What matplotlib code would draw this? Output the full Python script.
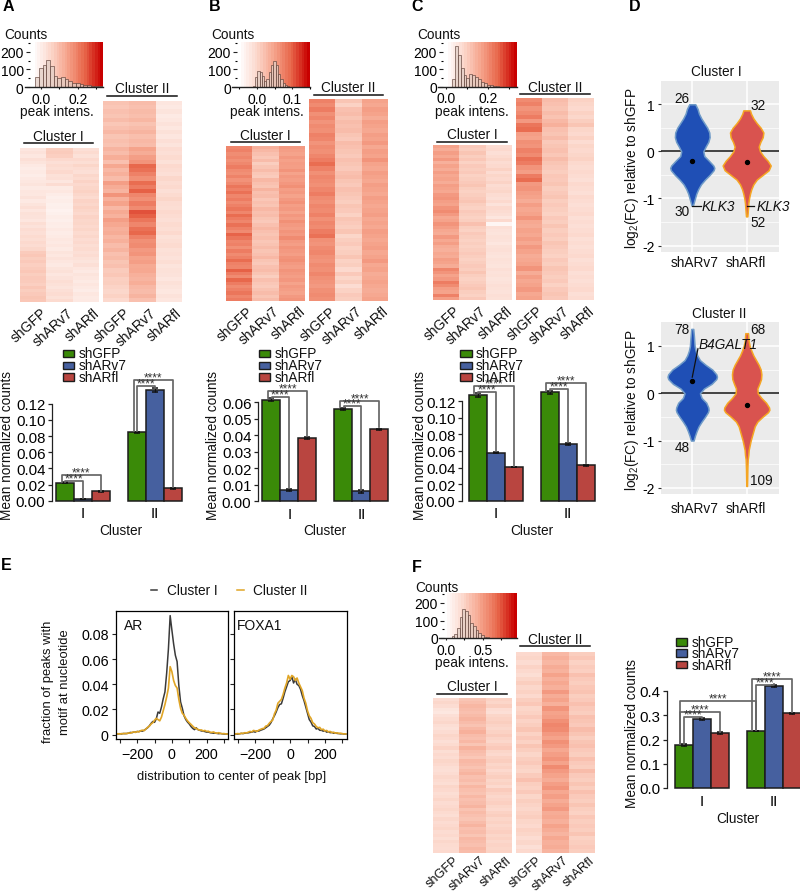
import numpy as np
import matplotlib
matplotlib.use('Agg')
import matplotlib.pyplot as plt
from matplotlib.colors import LinearSegmentedColormap

plt.rcParams['font.family'] = ['Liberation Sans', 'DejaVu Sans']
plt.rcParams['mathtext.default'] = 'regular'
plt.rcParams['axes.linewidth'] = 0.9

W, H = 800, 895
samples = ['shGFP', 'shARv7', 'shARfl']
bar_colors = ['#3a8a08', '#46609f', '#b94540']

# heatmap values, one list per column, top row first (0-100 on the colour ramp)
a1_gfp = [16,18,15,20,17,14,12,13,11,14,15,17,13,16,15,18,14,17,20,16,19,18,16,21,18,22,20,23,21,24,22,25,31,33,30,32,29,31,33,30,32,31,29,33,30,32,34,33]
a1_v7 = [30,31,29,24,20,23,21,24,19,20,16,22,13,15,12,10,11,9,10,8,9,11,10,12,11,14,12,13,15,14,16,13,17,15,18,16,14,17,19,16,18,21,19,17,20,22,19,23]
a1_fl = [20,23,19,24,21,26,22,20,25,23,27,24,26,28,25,23,27,25,28,26,24,27,25,26,24,26,23,25,22,24,21,23,20,22,19,17,20,16,14,17,15,13,16,14,12,15,13,14]
a2_gfp = [35,33,36,34,38,33,36,40,34,37,35,42,38,45,36,48,40,44,38,52,46,42,56,44,50,40,47,43,52,48,44,46,41,44,38,42,36,39,34,36,31,33,29,30,27,25,28,24]
a2_v7 = [38,36,39,37,41,35,38,42,37,40,38,50,46,52,56,74,70,64,58,72,66,76,62,58,66,60,80,76,68,62,70,74,64,58,60,54,56,50,52,47,48,44,42,45,40,38,42,36]
a2_fl = [16,14,17,13,15,18,15,19,16,20,17,22,20,23,19,24,22,20,25,22,24,20,23,26,22,21,24,22,20,23,21,24,19,21,23,19,20,18,21,17,19,18,16,19,17,15,18,16]
b1_gfp = [62,64,59,62,58,61,66,60,58,63,57,61,68,64,70,62,66,60,64,68,62,72,66,62,70,64,60,75,68,62,64,58,66,60,64,72,64,62,76,66,60,74,66,60,64,68,62,66]
b1_v7 = [44,40,36,33,38,30,34,38,33,31,40,36,34,42,36,38,33,36,34,40,36,38,34,32,36,40,36,34,37,33,35,38,34,36,40,34,32,36,38,34,30,36,33,31,35,38,34,38]
b1_fl = [54,52,50,54,51,53,52,56,50,54,52,55,58,52,54,50,54,57,52,54,50,55,52,58,54,52,56,54,60,54,52,56,54,52,56,58,54,52,56,54,52,55,50,54,52,50,54,56]
b2_gfp = [64,60,66,58,62,56,60,58,64,62,56,60,58,62,66,72,64,58,62,60,58,62,66,60,58,62,60,64,58,62,60,66,70,58,56,60,62,58,56,60,58,62,58,56,54,58,60,58]
b2_v7 = [34,28,36,38,34,38,36,38,34,32,38,36,34,32,36,34,32,36,38,34,32,36,34,32,30,34,32,28,34,32,30,34,26,30,32,28,30,34,28,30,24,32,26,30,22,28,32,30]
b2_fl = [50,48,52,50,46,52,50,48,52,50,54,48,52,50,56,50,48,52,50,48,52,50,48,52,50,48,50,52,48,50,48,52,50,48,50,52,48,50,54,48,50,46,48,50,48,46,48,50]
c1_gfp = [50,46,52,48,54,44,50,46,52,48,50,46,52,50,48,54,56,52,50,56,60,54,48,50,56,52,48,46,54,48,52,46,44,48,46,52,50,46,62,56,50,54,66,60,52,50,64,52]
c1_v7 = [32,30,34,30,33,28,32,30,32,28,30,32,34,30,28,30,32,34,30,28,32,30,28,30,36,30,28,32,30,28,30,28,30,32,30,28,30,32,30,34,30,28,30,32,34,30,28,32]
c1_fl = [22,24,20,23,26,22,24,28,22,26,24,27,22,24,26,22,20,24,18,24,22,20,16,24,6,20,18,17,19,18,16,19,20,18,17,19,18,17,20,18,19,17,18,20,19,18,20,19]
c2_gfp = [60,64,56,60,66,54,68,72,52,50,58,56,64,60,70,66,56,52,66,72,54,56,52,50,46,52,48,50,56,48,46,50,48,52,48,54,50,46,48,50,56,46,52,48,50,54,48,50]
c2_v7 = [38,36,34,38,35,40,44,36,34,38,32,34,36,33,38,34,32,30,33,32,34,30,32,34,30,32,30,28,32,30,34,30,32,30,34,32,30,28,32,30,34,32,30,32,28,32,34,32]
c2_fl = [28,26,24,28,25,30,34,26,24,28,22,26,24,26,28,24,22,24,22,20,24,22,20,24,22,20,22,24,20,22,20,22,24,20,22,20,22,24,20,22,24,20,22,20,22,24,20,22]
f1_gfp = [22,25,22,17,15,20,23,25,21,19,22,26,24,20,23,27,21,24,22,26,24,21,20,22,25,23,21,26,24,21,23,26,22,24,26,23,21,25,22,24,26,22,24,21,25,23,22,24]
f1_v7 = [34,37,41,38,36,39,42,38,35,40,44,38,36,40,34,43,38,36,33,40,38,35,39,42,36,38,34,41,37,35,40,36,38,42,35,39,36,34,38,42,36,38,34,40,38,36,40,38]
f1_fl = [28,26,30,22,20,26,28,30,27,25,28,31,27,25,29,32,26,24,28,30,26,28,24,27,30,26,28,24,31,28,25,27,29,26,24,28,30,26,28,25,27,29,26,28,25,27,26,28]
f2_gfp = [24,26,22,27,24,21,26,30,25,28,24,30,33,26,28,32,27,30,34,28,32,28,34,30,26,30,32,28,26,31,36,30,28,32,26,30,27,25,28,30,26,24,28,26,22,25,20,24]
f2_v7 = [40,44,41,46,43,50,44,48,44,54,46,50,44,56,50,52,58,62,60,54,50,58,54,48,52,56,50,60,54,50,46,52,56,48,52,46,50,54,46,48,44,50,46,42,48,44,46,42]
f2_fl = [30,33,28,31,29,36,32,30,33,35,30,32,36,32,30,36,34,32,38,34,30,34,36,32,30,36,32,30,38,32,30,34,30,36,32,30,34,30,28,33,30,32,30,34,28,30,32,30]

# histograms above the heatmaps
hist_a = [55,105,125,155,120,65,50,58,45,32,25,20,18,12,10,8,5,5,3,2]
hist_b = [8,55,90,85,60,35,45,85,125,145,125,75,45,20,10,5]
hist_c = [45,235,180,105,65,50,70,65,55,45,25,20,10,6,4,2]
hist_f = [10,25,60,120,165,155,130,85,70,45,30,15,8,3,2]
hist_start = {'A': -0.03, 'B': -0.012, 'C': 0.028, 'F': 0.08}
hist_width = {'A': 0.02, 'B': 0.0065, 'C': 0.014, 'F': 0.036}

# bars: I shGFP, shARv7, shARfl, II shGFP, shARv7, shARfl
bars_a = [0.0223, 0.002, 0.0115, 0.0845, 0.1373, 0.0153]
errs_a = [0.0006, 0.0003, 0.0004, 0.001, 0.0025, 0.0006]
bars_b = [0.0616, 0.0068, 0.0385, 0.0558, 0.006, 0.0437]
errs_b = [0.001, 0.0008, 0.0005, 0.0006, 0.0007, 0.0004]
bars_c = [0.1277, 0.058, 0.0407, 0.1309, 0.0685, 0.0427]
errs_c = [0.0022, 0.001, 0.0005, 0.0018, 0.0008, 0.0005]
bars_f = [0.1773, 0.283, 0.2268, 0.235, 0.422, 0.308]
errs_f = [0.003, 0.004, 0.003, 0.002, 0.004, 0.003]

# brackets: left bar, right bar, top, foot left, foot right
brackets_a = [(0, 2, 0.0318, 0.023, 0.0125), (0, 1, 0.0244, 0.023, 0.003),
              (4, 6, 0.149, 0.086, 0.0165), (4, 5, 0.142, 0.086, 0.14)]
brackets_b = [(0, 2, 0.0667, 0.0625, 0.0398), (0, 1, 0.063, 0.0625, 0.0078),
              (4, 6, 0.061, 0.057, 0.0448), (4, 5, 0.0576, 0.057, 0.0068)]
brackets_c = [(0, 2, 0.138, 0.13, 0.042), (0, 1, 0.131, 0.13, 0.0596),
              (4, 6, 0.1418, 0.133, 0.0455), (4, 5, 0.135, 0.133, 0.0705)]
brackets_f = [(0, 2, 0.315, 0.18, 0.23), (0, 1, 0.291, 0.18, 0.287),
              (0, 4, 0.36, 0.18, 0.238), (4, 6, 0.4495, 0.238, 0.312), (4, 5, 0.426, 0.238, 0.427)]

# motif profiles
bp = list(range(-320, 330, 10))
ar_c1 = [.0005,.0006,.0008,.0006,.001,.0008,.001,.0012,.0018,.0016,.002,.002,.0025,.0025,.003,.0028,.0035,.0045,.0055,.007,.009,.0105,
         .0098,.0125,.018,.017,.022,.0285,.034,.049,.068,.0945,.083,.072,.063,.058,.039,.026,.021,.015,.012,.010,.0085,.0065,.005,.004,
         .0055,.004,.0035,.003,.0028,.0025,.002,.0022,.0016,.0014,.0012,.0013,.001,.0008,.001,.0007,.0006,.0005,.0005]
ar_c2 = [.0004,.0008,.0005,.0009,.0007,.0011,.0008,.0014,.0012,.0018,.0022,.0018,.0026,.0022,.0032,.0036,.0032,.0045,.0058,.0068,.0085,.0095,
         .0115,.013,.012,.011,.014,.019,.024,.030,.037,.054,.050,.043,.039,.037,.028,.021,.017,.0155,.013,.011,.0095,.0082,.0068,.0055,
         .005,.0042,.0036,.0038,.003,.0034,.0026,.0028,.002,.0018,.0022,.0014,.0012,.0016,.001,.0008,.0009,.0006,.0005]
fox_c1 = [.0005,.0006,.0005,.0008,.001,.0009,.0012,.0014,.0015,.0018,.002,.0025,.002,.003,.0028,.0035,.004,.0045,.0055,.0065,.0075,.0095,
          .0125,.015,.018,.0215,.024,.0245,.029,.034,.038,.042,.043,.046,.041,.044,.04,.039,.036,.031,.027,.022,.017,.012,.010,.007,
          .0065,.0045,.005,.0035,.0035,.0028,.0032,.002,.0024,.0016,.0018,.0012,.0014,.001,.0009,.0007,.0008,.0005,.0005]
fox_c2 = [.0004,.0007,.0009,.0006,.0012,.001,.0016,.0014,.002,.0026,.0022,.0034,.003,.0026,.0036,.0042,.0048,.005,.0068,.0072,.009,.0105,
          .0115,.0165,.0195,.025,.0265,.028,.032,.037,.041,.047,.044,.047,.046,.043,.045,.041,.038,.035,.029,.025,.019,.015,.013,.0095,
          .0085,.0065,.0055,.0058,.004,.0044,.003,.0034,.0022,.0026,.0016,.002,.0012,.0015,.001,.0012,.0008,.0006,.0006]

# violins: log2 FC and half width
v1_y = [1.0,.9,.8,.7,.6,.5,.4,.3,.2,.1,0,-.1,-.2,-.3,-.35,-.4,-.5,-.6,-.7,-.8,-.9,-1.0,-1.1,-1.15]
v1_w = [9,16,20,27,36,45,51,52,48,40,33,36,50,63,66,64,52,38,26,18,12,8,4,2]
v2_y = [.87,.8,.7,.6,.5,.4,.3,.2,.1,0,-.1,-.2,-.3,-.4,-.5,-.6,-.7,-.8,-.9,-1,-1.1,-1.2,-1.3,-1.38]
v2_w = [10,13,20,30,42,50,48,41,36,40,50,63,72,66,48,30,20,14,10,7,5,4,3,2]
v3_y = [1.36,1.2,1.0,.9,.8,.7,.6,.5,.4,.35,.3,.2,.1,0,-.1,-.2,-.3,-.35,-.4,-.5,-.6,-.7,-.8,-.9,-1.0]
v3_w = [3,5,7,10,15,23,40,60,72,74,72,58,35,23,28,42,48,49,47,38,28,19,13,8,4]
v4_y = [1.27,1.1,1,.9,.8,.7,.6,.5,.4,.3,.2,.1,0,-.1,-.2,-.3,-.35,-.4,-.5,-.6,-.7,-.8,-.9,-1,-1.1,-1.2,-1.3,-1.4,-1.6,-1.8,-1.96]
v4_w = [4,6,9,14,20,28,36,42,44,43,38,32,33,44,58,67,68,64,47,32,24,20,16,12,9,6,5,3,2,1.5,1]
medians_i = [-0.205, -0.235]
medians_ii = [0.25, -0.245]

heat_cmap = LinearSegmentedColormap.from_list(
    'heat', ['#ffffff', '#fcd8cc', '#f6a48c', '#e8664a', '#c80000'])

fig = plt.figure(figsize=(W / 100, H / 100), dpi=100)
canvas = fig.add_axes([0, 0, 1, 1])
canvas.set_xlim(0, W)
canvas.set_ylim(H, 0)
canvas.axis('off')
canvas.set_zorder(10)


def px_axes(x0, y0, x1, y1):
    return fig.add_axes([x0 / W, 1 - y1 / H, (x1 - x0) / W, (y1 - y0) / H])


def draw_heat(box, columns, label_size=10, label_gap=3):
    x0, y0, x1, y1 = box
    ax = px_axes(x0, y0, x1, y1)
    ax.imshow(np.array(columns).T, cmap=heat_cmap, vmin=0, vmax=100,
              aspect='auto', interpolation='nearest')
    ax.axis('off')
    step = (x1 - x0) / 3
    for i, name in enumerate(samples):
        canvas.text(x0 + step * (i + 0.5) + 7, y1 + label_gap, name, rotation=42, ha='right', va='top',
                    rotation_mode='anchor', fontsize=label_size, color='#111111')


def draw_cluster_label(name, xc, y, line):
    canvas.text(xc, y, name, ha='center', va='center', fontsize=9.8, color='#111111')
    canvas.plot(line[:2], [line[2], line[2]], color='#111111', lw=1.1)


def draw_hist(key, counts, box, zero_px, px_per_unit, spine_x, label_ticks, minor_ticks, y200, y0_px):
    x0, y0, x1, y1 = box
    ax = px_axes(spine_x + 5, y0, x1, y1)
    ax.patch.set_alpha(0)
    ax.set_xlim((spine_x + 5 - zero_px) / px_per_unit, (x1 - zero_px) / px_per_unit)
    ax.set_ylim(0, (y0_px - y0) / ((y0_px - y200) / 200))
    grad = np.linspace(0, 100, 26).reshape(1, -1)
    xl = ax.get_xlim()
    yl = ax.get_ylim()
    ax.imshow(grad, cmap=heat_cmap, vmin=0, vmax=100, aspect='auto', interpolation='nearest',
              extent=((x0 - zero_px) / px_per_unit, xl[1], yl[0], yl[1]))
    ax.set_xlim(xl)
    ax.set_ylim(yl)
    lefts = hist_start[key] + hist_width[key] * np.arange(len(counts))
    ax.bar(lefts, counts, width=hist_width[key], align='edge', color='#e2cfc6', alpha=0.75,
           edgecolor='#5e4038', linewidth=0.6)
    for s in ['top', 'right', 'left', 'bottom']:
        ax.spines[s].set_visible(False)
    ax.plot([-(5 / (x1 - spine_x - 5)), 1], [0, 0], transform=ax.transAxes, color='#222222', lw=1, clip_on=False)
    ax.set_yticks([0, 100, 200])
    ax.set_yticks([50, 150, 250], minor=True)
    ax.set_xticks(label_ticks)
    ax.set_xticks(minor_ticks, minor=True)
    ax.set_xticklabels(['%.1f' % t for t in label_ticks])
    ax.tick_params(axis='y', which='major', length=3, width=0.8, pad=1.5, labelsize=10, color='#222222')
    ax.tick_params(axis='y', which='minor', length=1.5, width=0.8)
    ax.tick_params(axis='x', which='major', length=1.5, width=0.8, pad=2, labelsize=10, color='#222222')
    ax.tick_params(axis='x', which='minor', length=1.5, width=0.8)


def draw_bars(values, errs, brackets, spine_x, bar_left, y0_px, ytop_px, ymax, yticks, fmt):
    ax = px_axes(spine_x, ytop_px, bar_left + 7 * 18, y0_px)
    ax.patch.set_alpha(0)
    xpos = [0, 1, 2, 4, 5, 6]
    colors = bar_colors * 2
    rects = ax.bar(xpos, values, width=1, color=colors, edgecolor='#1c1c1c', linewidth=1.1)
    for r in rects:
        r.set_clip_on(False)
    ax.errorbar(xpos, values, yerr=errs, fmt='none', ecolor='#111111', elinewidth=0.9, capsize=2.2, capthick=1.1, clip_on=False)
    ax.set_xlim((spine_x - bar_left) / 18 - 0.5, 6.5)
    ax.set_ylim(0, ymax)
    ax.set_yticks(yticks)
    ax.set_yticklabels([fmt % t for t in yticks])
    ax.set_xticks([1, 5])
    ax.set_xticklabels(['I', 'II'])
    ax.tick_params(axis='x', length=0, pad=4, labelsize=10.8)
    ax.tick_params(axis='y', length=3, width=0.9, pad=1.5, labelsize=10.8, color='#222222')
    for s in ['top', 'right', 'bottom']:
        ax.spines[s].set_visible(False)
    ax.spines['left'].set_color('#222222')
    for left, right, top, foot_l, foot_r in brackets:
        shift = -0.18 if right - left > 1 else 0.02
        ax.plot([left + shift, left + shift, right, right], [foot_l, top, top, foot_r],
                color='#666666', lw=1.25, clip_on=False, zorder=5)
        ax.annotate('****', ((left + shift + right) / 2, top), xytext=(0, -2.5), textcoords='offset points',
                    ha='center', va='bottom', fontsize=8.5, color='#333333', annotation_clip=False, zorder=6)
    return ax


def draw_legend(x, ys):
    for name, color, y in zip(samples, bar_colors, ys):
        canvas.add_patch(plt.Rectangle((x, y - 3.8), 11.3, 7.6, facecolor=color, edgecolor='#1c1c1c', lw=1))
        canvas.text(x + 15.5, y, name, ha='left', va='center', fontsize=9.8, color='#111111')


# panel letters
for letter, x, y in [('A', 8, 6), ('B', 215, 6), ('C', 417, 6), ('D', 635, 6), ('E', 6, 566), ('F', 417, 567)]:
    canvas.text(x, y, letter, ha='center', va='center', fontsize=11.5, fontweight='bold', color='black')

# heatmaps
draw_heat((20, 149, 98.7, 303), [a1_gfp, a1_v7, a1_fl])
draw_heat((103, 102, 181.3, 303), [a2_gfp, a2_v7, a2_fl])
draw_heat((226.3, 147, 305, 301.7), [b1_gfp, b1_v7, b1_fl])
draw_heat((309.3, 100, 387.7, 301.7), [b2_gfp, b2_v7, b2_fl])
draw_heat((433, 146, 512, 301), [c1_gfp, c1_v7, c1_fl])
draw_heat((516, 99.3, 594, 301), [c2_gfp, c2_v7, c2_fl])
draw_heat((433, 699, 511.7, 853.7), [f1_gfp, f1_v7, f1_fl], label_size=9.2, label_gap=1)
draw_heat((516, 652.7, 594.7, 853.7), [f2_gfp, f2_v7, f2_fl], label_size=9.2, label_gap=1)

draw_cluster_label('Cluster I', 58, 137, (24, 93, 144.3))
draw_cluster_label('Cluster II', 142, 89, (107, 177, 96.7))
draw_cluster_label('Cluster I', 265, 136, (231, 300, 143.3))
draw_cluster_label('Cluster II', 348, 88, (314, 383, 95.7))
draw_cluster_label('Cluster I', 472, 135, (437, 507, 143))
draw_cluster_label('Cluster II', 555, 88, (520, 590, 95.3))
draw_cluster_label('Cluster I', 472, 687, (437, 507, 695))
draw_cluster_label('Cluster II', 555, 640, (520, 590, 647))

# count histograms
draw_hist('A', hist_a, (32, 43, 103, 88), 40.7, 185, 25, [0.0, 0.2], [0.1, 0.3], 52.7, 88)
draw_hist('B', hist_b, (237.7, 43, 310, 88), 257.3, 360, 232, [0.0, 0.1], [-0.05, 0.05, 0.15], 52.7, 88)
draw_hist('C', hist_c, (445, 43, 516.7, 87.5), 445.7, 212, 438, [0.0, 0.2], [0.1, 0.3], 53, 87.5)
draw_hist('F', hist_f, (444, 594, 516.7, 639), 445.7, 74, 439, [0.0, 0.5], [0.25, 0.75], 604, 639)
for x, y, text in [(26, 35, 'Counts'), (233, 35, 'Counts'), (439, 35, 'Counts'), (437, 588, 'Counts'),
                   (57, 112, 'peak intens.'), (267, 112, 'peak intens.'), (472, 112, 'peak intens.'), (472, 663, 'peak intens.')]:
    canvas.text(x, y, text, ha='center', va='center', fontsize=9.8, color='#111111')

# bar panels
draw_bars(bars_a, errs_a, brackets_a, 51.7, 56, 501.7, 404.7, 0.12, [0, .02, .04, .06, .08, .10, .12], '%.2f')
draw_bars(bars_b, errs_b, brackets_b, 257.7, 262.3, 502.3, 403.3, 0.06, [0, .01, .02, .03, .04, .05, .06], '%.2f')
draw_bars(bars_c, errs_c, brackets_c, 461.7, 468.7, 501.7, 402.3, 0.12, [0, .02, .04, .06, .08, .10, .12], '%.2f')
draw_bars(bars_f, errs_f, brackets_f, 666.7, 674.7, 789, 692, 0.4, [0, .1, .2, .3, .4], '%.1f')

draw_legend(62.7, [354.3, 366.3, 377.7])
draw_legend(259, [354.3, 366.3, 377.7])
draw_legend(460.3, [354.3, 366.3, 377.7])
draw_legend(675.7, [642.7, 654, 665.5])

for x, y in [(7, 445), (212.7, 445), (420, 445), (631.7, 733)]:
    canvas.text(x, y, 'Mean normalized counts', rotation=90, ha='center', va='center', fontsize=9.8, color='#111111')
for x, y in [(121, 531), (325, 531), (531.7, 531), (737.7, 819)]:
    canvas.text(x, y, 'Cluster', ha='center', va='center', fontsize=9.8, color='#111111')


# violins
def draw_violin_panel(y0, y1, title, title_x, title_y, tick_y, rows, medians, ylabel_y):
    ax = px_axes(660.7, y0, 779, y1)
    ax.set_facecolor('#ebebeb')
    ax.set_xlim(-0.58, 1.594)
    ax.set_ylim(-2.13, 1.5)
    ax.set_yticks([-2, -1, 0, 1])
    ax.set_yticks([-1.5, -0.5, 0.5], minor=True)
    ax.set_yticklabels(['-2', '-1', '0', '1'])
    ax.set_xticks([0, 1])
    ax.set_xticklabels(['', ''])
    ax.grid(which='major', color='white', lw=1.1)
    ax.grid(which='minor', color='white', lw=0.5)
    ax.set_axisbelow(True)
    ax.tick_params(axis='y', which='major', length=2.5, width=0.8, pad=2, labelsize=10, color='#333333')
    ax.tick_params(axis='y', which='minor', length=0)
    ax.tick_params(axis='x', length=0)
    for s in ax.spines.values():
        s.set_visible(False)
    ax.axhline(0, color='#111111', lw=1.1, zorder=1)
    fills = ['#1f4fb5', '#d9534f']
    edges = ['#6f9bc8', '#f5a623']
    for i, (ys, ws) in enumerate(rows):
        half = np.array(ws) / 163
        ax.fill_betweenx(ys, i - half, i + half, facecolor=fills[i], edgecolor=edges[i], lw=1.1, zorder=2)
    ax.scatter([0, 1], medians, s=8, color='black', zorder=4)
    canvas.text(title_x, title_y, title, ha='center', va='center', fontsize=9.8, color='#111111')
    canvas.text(695, tick_y, 'shARv7', ha='center', va='center', fontsize=9.8, color='#111111')
    canvas.text(746, tick_y, 'shARfl', ha='center', va='center', fontsize=9.8, color='#111111')
    canvas.text(632, ylabel_y, 'log$_{2}$(FC) relative to shGFP', rotation=90, ha='center', va='center',
                fontsize=9.8, color='#111111')
    return ax


ax_d1 = draw_violin_panel(81.7, 252.7, 'Cluster I', 716.7, 72, 262.7,
                          [(v1_y, v1_w), (v2_y, v2_w)], medians_i, 168)
for x, y, t in [(-0.19, 1.13, '26'), (-0.19, -1.27, '30'), (1.21, 0.99, '32'), (1.21, -1.5, '52')]:
    ax_d1.text(x, y, t, ha='center', va='center', fontsize=9.8, color='#111111')
ax_d1.plot([0, 0.16], [-1.15, -1.15], color='#111111', lw=0.9, zorder=3)
ax_d1.plot([1, 1.14], [-1.15, -1.15], color='#111111', lw=0.9, zorder=3)
ax_d1.text(0.17, -1.15, 'KLK3', style='italic', ha='left', va='center', fontsize=9.8, color='#111111')
ax_d1.text(1.18, -1.15, 'KLK3', style='italic', ha='left', va='center', fontsize=9.8, color='#111111', clip_on=False)

ax_d2 = draw_violin_panel(323.3, 495, 'Cluster II', 719.5, 314, 509,
                          [(v3_y, v3_w), (v4_y, v4_w)], medians_ii, 410)
for x, y, t in [(-0.19, 1.356, '78'), (-0.19, -1.137, '48'), (1.21, 1.356, '68'), (1.276, -1.84, '109')]:
    ax_d2.text(x, y, t, ha='center', va='center', fontsize=9.8, color='#111111')
ax_d2.plot([0, 0.104], [0.34, 0.94], color='#111111', lw=0.9, zorder=3)
ax_d2.text(0.11, 1.045, 'B4GALT1', style='italic', ha='left', va='center', fontsize=9.8, color='#111111', zorder=5)


# motif profiles
def draw_motif(box, c1, c2, name, name_x, show_labels):
    ax = px_axes(*box)
    ax.plot(bp, c1, color='#3a3a3a', lw=1.1)
    ax.plot(bp, c2, color='#e0a526', lw=1.2)
    ax.set_xlim(-322, 325)
    ax.set_ylim(-0.00365, 0.0984)
    ax.set_xticks([-300, -200, -100, 0, 100, 200, 300])
    ax.set_xticklabels(['', '\u2212200', '', '0', '', '200', ''])
    ax.set_yticks([0, .02, .04, .06, .08])
    if show_labels:
        ax.set_yticklabels(['0', '0.02', '0.04', '0.06', '0.08'])
    else:
        ax.set_yticklabels([])
    ax.tick_params(axis='both', length=3.2, width=0.8, labelsize=10.3, pad=2, color='#222222')
    canvas.text(name_x, 626, name, ha='center', va='center', fontsize=10, color='#111111')


draw_motif((116, 611.7, 228.3, 740.3), ar_c1, ar_c2, 'AR', 134, True)
draw_motif((234, 611.7, 346.7, 740.3), fox_c1, fox_c2, 'FOXA1', 260, False)
canvas.plot([151, 157], [590.7, 590.7], color='#3a3a3a', lw=1.1)
canvas.plot([237, 244], [590.7, 590.7], color='#e0a526', lw=1.1)
canvas.text(166.7, 590.7, 'Cluster I', ha='left', va='center', fontsize=9.8, color='#111111')
canvas.text(252.7, 590.7, 'Cluster II', ha='left', va='center', fontsize=9.8, color='#111111')
canvas.text(48, 682, 'fraction of peaks with', rotation=90, ha='center', va='center', fontsize=9.4, color='#111111')
canvas.text(65, 682, 'motif at nucleotide', rotation=90, ha='center', va='center', fontsize=9.4, color='#111111')
canvas.text(231.7, 776.7, 'distribution to center of peak [bp]', ha='center', va='center', fontsize=9.4, color='#111111')

fig.savefig('out.png', dpi=100)
